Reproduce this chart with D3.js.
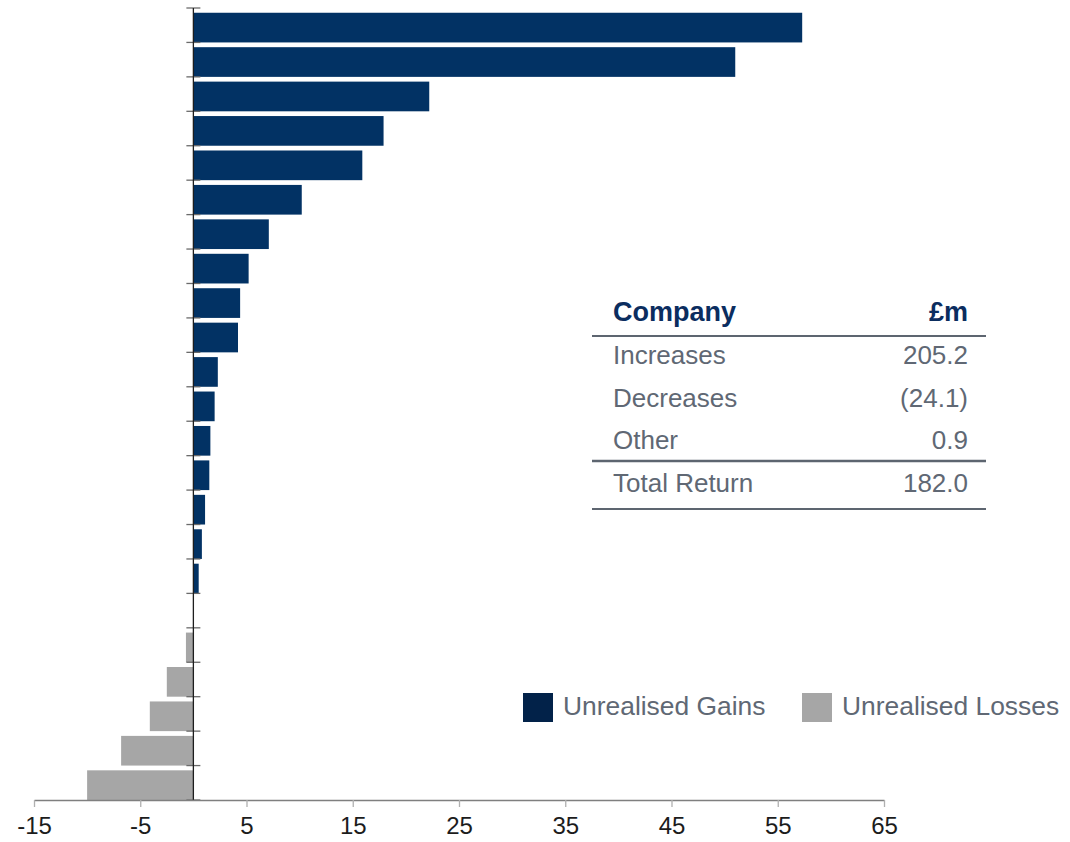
<!DOCTYPE html>
<html>
<head>
<meta charset="utf-8">
<script src="https://cdn.jsdelivr.net/npm/d3@7"></script>
<style>
  html, body { margin: 0; padding: 0; background: #fff; }
  svg { display: block; font-family: "Liberation Sans", Arial, sans-serif; }
</style>
</head>
<body>
<svg id="chart" width="1070" height="842"></svg>
<script>
// Valuation movement per holding (£m), largest gain first
const holdings = ["H01","H02","H03","H04","H05","H06","H07","H08","H09","H10","H11","H12",
                  "H13","H14","H15","H16","H17","H18","H19","H20","H21","H22","H23"];
const movements = [57.3, 51.0, 22.2, 17.9, 15.9, 10.2, 7.1, 5.2, 4.4, 4.2, 2.3, 2.0,
                   1.6, 1.5, 1.1, 0.8, 0.5, 0, -0.7, -2.5, -4.1, -6.8, -10.0];
const xTicks = [-15, -5, 5, 15, 25, 35, 45, 55, 65];

// Summary table
const tableHeader = ["Company", "£m"];
const tableLabels = ["Increases", "Decreases", "Other", "Total Return"];
const tableValues = ["205.2", "(24.1)", "0.9", "182.0"];

// Legend
const legendLabels = ["Unrealised Gains", "Unrealised Losses"];
const legendColors = ["#022249", "#a6a6a6"];

const gainColor = "#023264";
const lossColor = "#a6a6a6";

const svg = d3.select("#chart");

const x = d3.scaleLinear().domain([-15, 65]).range([34, 884]);
const y = d3.scaleBand().domain(holdings).range([8, 800]).padding(0);
const bw = y.bandwidth();

// Bars
svg.append("g").selectAll("rect")
  .data(holdings.map((h, i) => ({ h, v: movements[i] })))
  .join("rect")
  .attr("x", d => x(Math.min(0, d.v)))
  .attr("width", d => Math.abs(x(d.v) - x(0)))
  .attr("y", d => y(d.h) + bw * 0.138)
  .attr("height", bw * 0.862)
  .attr("fill", d => d.v >= 0 ? gainColor : lossColor);

// Category axis: ticks at band edges, crossing the zero line
const edges = holdings.map(h => y(h)).concat([y.range()[1]]);
const yAxis = svg.append("g");
yAxis.selectAll("line.tk")
  .data(edges)
  .join("line")
  .attr("class", "tk")
  .attr("x1", x(0) - 7).attr("x2", x(0) + 7)
  .attr("y1", d => d).attr("y2", d => d)
  .attr("stroke", "#6b6b6b").attr("stroke-width", 1.3);
yAxis.append("line")
  .attr("x1", x(0)).attr("x2", x(0))
  .attr("y1", y.range()[0]).attr("y2", y.range()[1])
  .attr("stroke", "#1e1e1e").attr("stroke-width", 1.3);

// Value axis
const xAxis = svg.append("g")
  .attr("transform", `translate(0,${y.range()[1]})`)
  .call(d3.axisBottom(x).tickValues(xTicks).tickSize(7).tickSizeOuter(0).tickPadding(10)
        .tickFormat(d3.format("d")));
xAxis.select(".domain").attr("stroke", "#7f7f7f").attr("stroke-width", 1.3);
xAxis.selectAll(".tick line").attr("stroke", "#b0b0b0").attr("stroke-width", 1.3);
xAxis.selectAll(".tick text")
  .attr("font-size", 24)
  .attr("fill", "#1c1c1c")
  .attr("font-family", "Liberation Sans, Arial, sans-serif")
  .text(d => d < 0 ? "-" + Math.abs(d) : d);

// Summary table
const tbl = svg.append("g");
const tLeft = 613, tRight = 968, lineL = 592, lineR = 986;
tbl.append("text").attr("x", tLeft).attr("y", 321)
  .attr("font-size", 27).attr("font-weight", "bold").attr("fill", "#0b2d5f")
  .text(tableHeader[0]);
tbl.append("text").attr("x", tRight).attr("y", 321).attr("text-anchor", "end")
  .attr("font-size", 27).attr("font-weight", "bold").attr("fill", "#0b2d5f")
  .text(tableHeader[1]);
const rowBase = [364, 407, 449, 492];
tableLabels.forEach((lab, i) => {
  tbl.append("text").attr("x", tLeft).attr("y", rowBase[i])
    .attr("font-size", 26).attr("fill", "#606874").text(lab);
  tbl.append("text").attr("x", tRight).attr("y", rowBase[i]).attr("text-anchor", "end")
    .attr("font-size", 26).attr("fill", "#606874").text(tableValues[i]);
});
[[336, 2], [461, 2.7], [509, 2]].forEach(([ly, w]) => {
  tbl.append("line").attr("x1", lineL).attr("x2", lineR)
    .attr("y1", ly).attr("y2", ly)
    .attr("stroke", "#5d6570").attr("stroke-width", w);
});

// Legend
const legX = [523, 802];
const leg = svg.append("g");
legendLabels.forEach((lab, i) => {
  leg.append("rect").attr("x", legX[i]).attr("y", 693).attr("width", 30).attr("height", 29)
    .attr("fill", legendColors[i]);
  leg.append("text").attr("x", legX[i] + 40).attr("y", 715)
    .attr("font-size", 26.4).attr("fill", "#606874").text(lab);
});
</script>
</body>
</html>
